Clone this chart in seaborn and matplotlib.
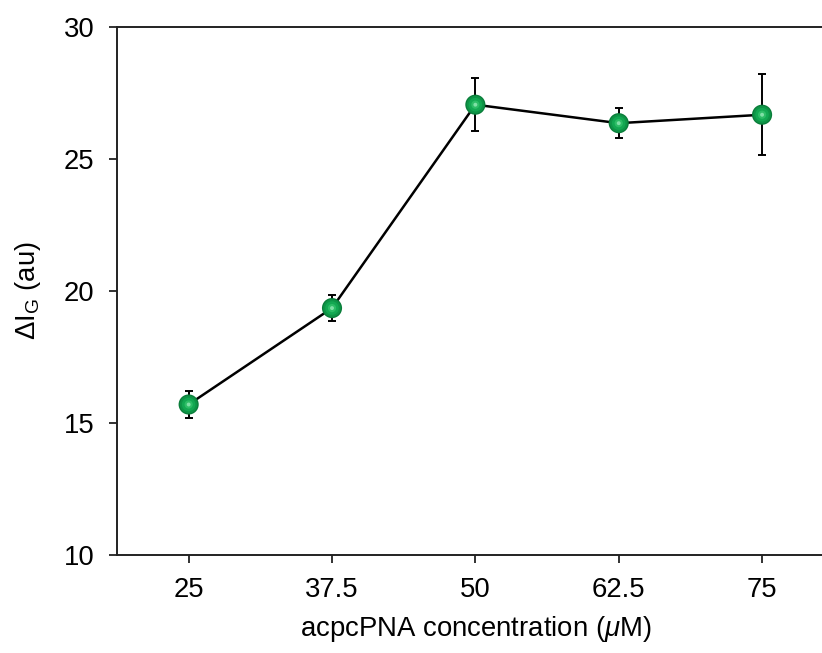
import numpy as np
import pandas as pd
import seaborn as sns
import matplotlib.pyplot as plt

sns.set_style('white')
plt.rcParams['font.family'] = ['Liberation Sans', 'DejaVu Sans']
plt.rcParams['mathtext.fontset'] = 'custom'
plt.rcParams['mathtext.rm'] = 'Liberation Sans'
plt.rcParams['mathtext.it'] = 'Liberation Sans:italic'
plt.rcParams['text.color'] = 'black'
plt.rcParams['axes.labelcolor'] = 'black'
plt.rcParams['xtick.color'] = 'black'
plt.rcParams['ytick.color'] = 'black'

# data
conc_labels = ['25', '37.5', '50', '62.5', '75']
delta_ig = [15.7, 19.35, 27.05, 26.35, 26.67]
delta_err = [0.5, 0.48, 1.0, 0.56, 1.53]

df = pd.DataFrame({'conc': conc_labels, 'val': delta_ig, 'err': delta_err})
df['pos'] = np.arange(len(df))

fig = plt.figure(figsize=(8.22, 6.53), dpi=100)
ax = fig.add_axes([0.1423, 0.150, 0.872, 0.809])

# line
sns.lineplot(data=df, x='pos', y='val', color='black', lw=1.8, ax=ax, zorder=1)

# error bars
ax.errorbar(df['pos'], df['val'], yerr=df['err'], fmt='none', ecolor='black',
            elinewidth=1.4, capsize=3, capthick=1.4, zorder=2)

# green "spheres": a few stacked discs for shading
shades = [(210, '#0a7d3a'), (160, '#0e9446'), (95, '#13a852'), (35, '#2dbd66'), (8, '#7fe0a6')]
for s, c in shades:
    sns.scatterplot(data=df, x='pos', y='val', s=s, color=c, edgecolor='none',
                    ax=ax, zorder=3, legend=False)

ax.set_xlim(-0.5, len(df) - 0.5)
ax.set_ylim(10, 30)
ax.set_xticks(df['pos'], conc_labels)
ax.set_yticks([10, 15, 20, 25, 30])

ax.set_xlabel(r'acpcPNA concentration ($\mu$M)', fontsize=19.8, labelpad=8)
ax.set_ylabel(r'$\Delta$I$_\mathrm{G}$ (au)', fontsize=19.8, labelpad=15)

ax.spines['right'].set_visible(False)
for sp in ['left', 'bottom', 'top']:
    ax.spines[sp].set_linewidth(1.4)
    ax.spines[sp].set_color('#222222')

ax.tick_params(axis='both', which='major', direction='out', length=6, width=1.3,
               color='#222222', labelsize=19.8, pad=10)
ax.tick_params(axis='x', bottom=True, top=False)
ax.tick_params(axis='y', left=True, right=False)
ax.grid(False)

fig.savefig('out.png', dpi=100)
